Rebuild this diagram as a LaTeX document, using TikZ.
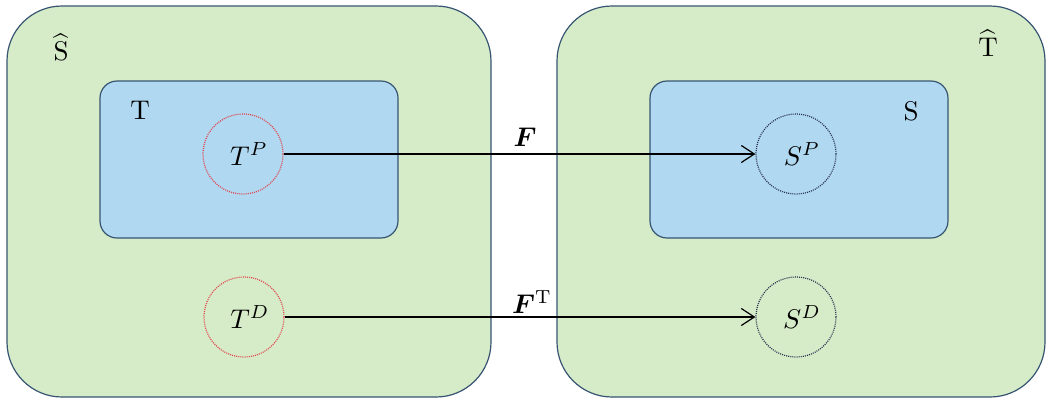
\documentclass[tikz,border=0pt]{standalone}
\usepackage{bm}
\usetikzlibrary{arrows.meta}
\definecolor{gfill}{RGB}{214,236,200}
\definecolor{bfill}{RGB}{176,216,240}
\definecolor{edgec}{RGB}{55,85,115}
\definecolor{redc}{RGB}{225,70,80}
\definecolor{navyc}{RGB}{40,50,80}
\newcommand\bigtxt[1]{\scalebox{2.7}{#1}}
\newcommand\hatsym[1]{\raisebox{0pt}{$\overset{\raisebox{1.2pt}{$\scriptstyle\wedge$}}{\mathrm{#1}}$}}
\begin{document}
\begin{tikzpicture}[x=1pt,y=-1pt,
  outerbox/.style={draw=edgec, fill=gfill, line width=1.2pt, rounded corners=55pt, inner sep=0pt},
  innerbox/.style={draw=edgec, fill=bfill, line width=1.2pt, rounded corners=17pt, inner sep=0pt},
  setcirc/.style={circle, minimum size=80pt, inner sep=0pt, line width=1.2pt, dash pattern=on 1pt off 1.1pt},
  tcirc/.style={setcirc, draw=redc},
  scirc/.style={setcirc, draw=navyc},
  lbl/.style={anchor=base, inner sep=0pt},
  arr/.style={-{Straight Barb[length=13pt,width=17pt,line width=1.2pt]}, line width=1.3pt, black}
]
\useasboundingbox (0,0) rectangle (1054,402);
\node[outerbox, minimum width=484pt, minimum height=391pt] (Shat) at (249,201.5) {};
\node[outerbox, minimum width=488pt, minimum height=391pt] (That) at (801,201.5) {};
\node[innerbox, minimum width=298pt, minimum height=157pt] (Tset) at (249,159.5) {};
\node[innerbox, minimum width=298pt, minimum height=157pt] (Sset) at (799,159.5) {};
\node[lbl] (lShat) at (61,60) {\bigtxt{$\widehat{\mathrm{S}}$}};
\node[lbl] (lThat) at (988,56) {\bigtxt{$\widehat{\mathrm{T}}$}};
\node[lbl] (lT) at (140,119) {\bigtxt{$\mathrm{T}$}};
\node[lbl] (lS) at (911,120) {\bigtxt{$\mathrm{S}$}};
\node[tcirc] (TP) at (243,154) {\hspace*{12pt}\bigtxt{$T^{P}$}};
\node[scirc] (SP) at (796,154) {\hspace*{12pt}\bigtxt{$S^{P}$}};
\node[tcirc] (TD) at (244,317) {\hspace*{12pt}\bigtxt{$T^{D}$}};
\node[scirc] (SD) at (796,317) {\hspace*{12pt}\bigtxt{$S^{D}$}};
\draw[arr] (TP.east) -- (SP.west);
\draw[arr] (TD.east) -- (SD.west);
\node[lbl] (lF) at (525,146) {\bigtxt{$\bm{F}$}};
\node[lbl] (lFT) at (532,313) {\bigtxt{$\bm{F}^{\mathrm{T}}$}};
\end{tikzpicture}
\end{document}
